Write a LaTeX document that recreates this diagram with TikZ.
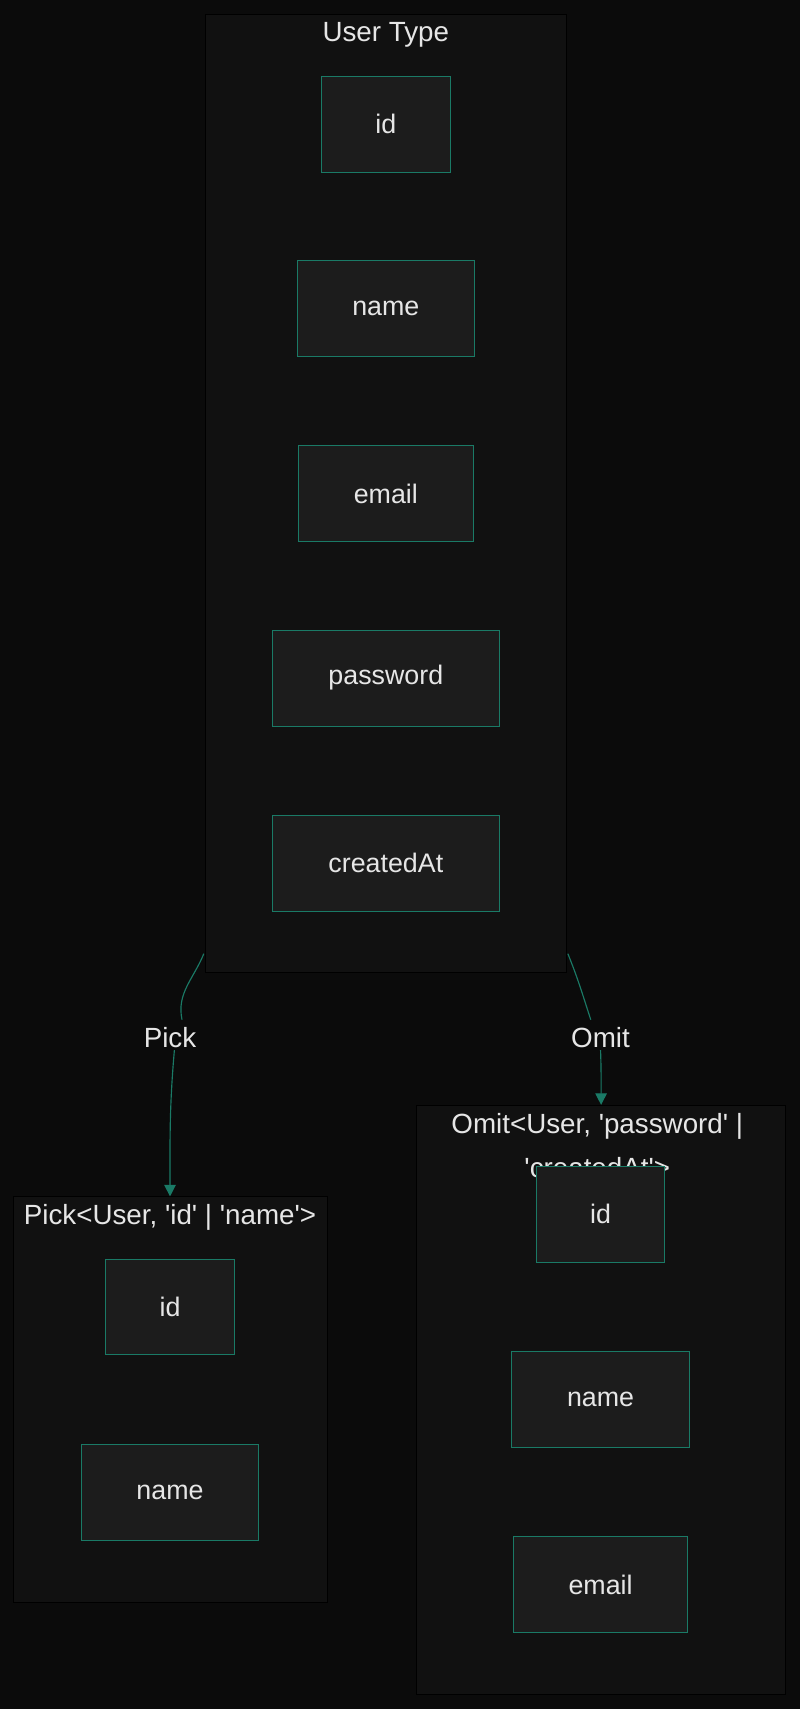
\documentclass[tikz,border=0pt]{standalone}
\usepackage{fontspec}
\setmainfont{Liberation Sans}
\usetikzlibrary{arrows.meta}
\definecolor{bgc}{HTML}{0B0B0B}
\definecolor{clc}{HTML}{111111}
\definecolor{fldc}{HTML}{1C1C1C}
\definecolor{edc}{HTML}{1A7A66}
\definecolor{txc}{HTML}{E6E6E6}
\newcommand{\sq}{\textquotesingle}
\tikzset{fld/.style={draw=edc,fill=fldc,text=txc,font=\fontsize{14}{16}\selectfont,minimum height=1.76cm,inner sep=0pt}}
\tikzset{grp/.style={draw=black,fill=clc,inner sep=0pt}}
\tikzset{ttl/.style={text=txc,font=\fontsize{14.5}{16}\selectfont,inner sep=1pt}}
\tikzset{lnk/.style={draw=edc,line width=0.6pt}}
\tikzset{>={Triangle[length=6pt,width=6pt]}}

\begin{document}
\begin{tikzpicture}[x=0.02cm,y=-0.02cm]
\useasboundingbox[fill=bgc] (0,0) rectangle (734,1568);

% user type
\node[grp,minimum width=6.64cm,minimum height=17.58cm] (user) at (354,452.5) {};
\node[ttl] (usert) at (354,32) {User Type};
\node[fld,minimum width=2.36cm] (uid) at (354,114) {id};
\node[fld,minimum width=3.26cm] (uname) at (354,283) {name};
\node[fld,minimum width=3.2cm] (uemail) at (354,453) {email};
\node[fld,minimum width=4.18cm] (upass) at (354,622) {password};
\node[fld,minimum width=4.18cm] (ucreated) at (354,792) {createdAt};

% pick
\node[grp,minimum width=5.76cm,minimum height=7.44cm] (pick) at (156,1284) {};
\node[ttl] (pickt) at (156,1117) {Pick<User, \sq id\sq{} | \sq name\sq>};
\node[fld,minimum width=2.36cm] (pid) at (156,1199) {id};
\node[fld,minimum width=3.26cm] (pname) at (156,1369) {name};

% omit
\node[grp,minimum width=6.78cm,minimum height=10.82cm] (omit) at (551.5,1284.5) {};
\node[ttl,align=center] (omitt) at (548,1051) {Omit<User, \sq password\sq{} |\\[0.25cm]\sq createdAt\sq>};
\node[fld,minimum width=2.36cm] (oid) at (551,1114) {id};
\node[fld,minimum width=3.26cm] (oname) at (551,1284) {name};
\node[fld,minimum width=3.2cm] (oemail) at (551,1454) {email};

% edges
\coordinate (pickstart) at (187,875);
\coordinate (omitstart) at (521,875);
\node[ttl] (pickl) at (156,952) {Pick};
\node[ttl] (omitl) at (551,952) {Omit};
\draw[lnk] (pickstart) to[out=-112,in=102] ([xshift=0.22cm,yshift=0.1cm]pickl.north);
\draw[lnk,->] ([xshift=0.08cm]pickl.south) to[out=-95,in=90] (pick.north);
\draw[lnk] (omitstart) to[out=-68,in=108] ([xshift=-0.18cm,yshift=0.1cm]omitl.north);
\draw[lnk,->] (omitl.south) to[out=-88,in=90] (omit.north);
\end{tikzpicture}
\end{document}
